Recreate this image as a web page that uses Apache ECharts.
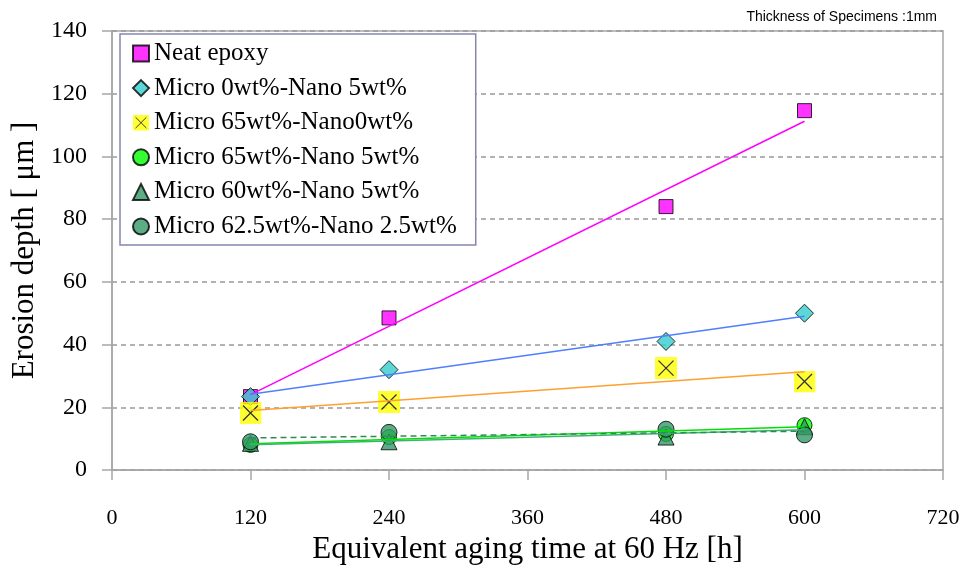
<!DOCTYPE html>
<html>
<head>
<meta charset="utf-8">
<script src="https://cdn.jsdelivr.net/npm/echarts@6/dist/echarts.min.js"></script>
<style>
html,body{margin:0;padding:0;background:#fff;}
#chart{width:965px;height:578px;}
</style>
</head>
<body>
<div id="chart"></div>
<script>
// ---- data ----
var hours = [120, 240, 480, 600];
var seriesNames = [
  'Neat epoxy',
  'Micro 0wt%-Nano 5wt%',
  'Micro 65wt%-Nano0wt%',
  'Micro 65wt%-Nano 5wt%',
  'Micro 60wt%-Nano 5wt%',
  'Micro 62.5wt%-Nano 2.5wt%'
];
var neatEpoxy   = [23.4, 48.5, 84, 114.6];
var m0n5        = [23.4, 32, 41, 50];
var m65n0       = [18.2, 21.7, 32.5, 28.2];
var m65n5       = [8, 10.5, 11.5, 14.3];
var m60n5       = [8.5, 9, 10.5, 13.8];
var m625n25     = [9, 12, 13, 11.2];
var xTicks = [0, 120, 240, 360, 480, 600, 720];
var yTicks = [0, 20, 40, 60, 80, 100, 120, 140];

var allValues = [neatEpoxy, m0n5, m65n0, m65n5, m60n5, m625n25];

var serif = '"Liberation Serif", "Times New Roman", serif';

var xSvg = "<svg xmlns='http://www.w3.org/2000/svg' width='22' height='22'><rect width='22' height='22' fill='#ffff00'/><path d='M3.5,3.5L18.5,18.5M18.5,3.5L3.5,18.5' stroke='#000' stroke-width='1.3' fill='none'/></svg>";
var xSymbol = 'image://data:image/svg+xml;charset=utf-8,' + encodeURIComponent(xSvg);

var markerStyles = [
  {symbol: 'rect', size: 14, color: '#ff00ff'},
  {symbol: 'diamond', size: 18, color: '#33cccc'},
  {symbol: xSymbol, size: 22, color: '#ffff00'},
  {symbol: 'circle', size: 15, color: '#00ff00'},
  {symbol: 'triangle', size: 16, color: '#339966'},
  {symbol: 'circle', size: 16, color: '#339966'}
];
var trendStyles = [
  {color: '#ff00ff', type: 'solid'},
  {color: '#4f7fff', type: 'solid'},
  {color: '#ffa030', type: 'solid'},
  {color: '#00e000', type: 'solid'},
  {color: '#3cb371', type: 'solid'},
  {color: '#2e8b57', type: [6, 4]}
];

function fit(xs, ys) {
  var n = xs.length, mx = 0, my = 0;
  for (var i = 0; i < n; i++) { mx += xs[i]; my += ys[i]; }
  mx /= n; my /= n;
  var sxy = 0, sxx = 0;
  for (var j = 0; j < n; j++) { sxy += (xs[j] - mx) * (ys[j] - my); sxx += (xs[j] - mx) * (xs[j] - mx); }
  var b = sxy / sxx, a = my - b * mx;
  return function (x) { return a + b * x; };
}

var series = [];
allValues.forEach(function (vals, k) {
  var f = fit(hours, vals);
  var x0 = hours[0], x1 = hours[hours.length - 1];
  series.push({
    name: 'trend' + k,
    type: 'line',
    data: [[x0, f(x0)], [x1, f(x1)]],
    symbol: 'none',
    silent: true,
    z: 5,
    lineStyle: {color: trendStyles[k].color, width: 1.5, type: trendStyles[k].type}
  });
});
allValues.forEach(function (vals, k) {
  var st = markerStyles[k];
  series.push({
    name: seriesNames[k],
    type: 'scatter',
    symbol: st.symbol,
    symbolSize: st.size,
    z: 3,
    itemStyle: {color: st.color, borderColor: '#000', borderWidth: 1},
    data: hours.map(function (h, i) { return [h, vals[i]]; })
  });
});

var chart = echarts.init(document.getElementById('chart'), null, {renderer: 'canvas'});
chart.setOption({
  animation: false,
  backgroundColor: '#fff',
  grid: {left: 112, right: 22, top: 31, bottom: 108, show: true, borderColor: '#a6a6a6', borderWidth: 1.5, backgroundColor: 'transparent'},
  graphic: [{
    type: 'text', right: 28, top: 10,
    style: {text: 'Thickness of Specimens :1mm', font: '14px "Liberation Sans", Arial, sans-serif', fill: '#000'}
  }],
  legend: {
    orient: 'vertical',
    left: 120, top: 34,
    data: seriesNames,
    backgroundColor: '#fff',
    borderColor: '#8585b0',
    borderWidth: 1.5,
    borderRadius: 0,
    padding: [7, 19, 6, 12],
    itemWidth: 16, itemHeight: 16,
    itemGap: 9.6,
    textStyle: {fontFamily: serif, fontSize: 25, color: '#000', lineHeight: 22}
  },
  xAxis: {
    type: 'value', min: xTicks[0], max: xTicks[xTicks.length - 1], interval: 120,
    name: 'Equivalent aging time at 60 Hz [h]', nameLocation: 'middle', nameGap: 63,
    nameTextStyle: {fontFamily: serif, fontSize: 31, color: '#000'},
    axisLine: {lineStyle: {color: '#a6a6a6', width: 1.5}},
    axisTick: {show: true, length: 10, lineStyle: {color: '#a6a6a6', width: 1.5}},
    axisLabel: {margin: 37, fontFamily: serif, fontSize: 22, color: '#000'},
    splitLine: {show: false}
  },
  yAxis: {
    type: 'value', min: yTicks[0], max: yTicks[yTicks.length - 1], interval: 20,
    name: 'Erosion depth [ μm ]', nameLocation: 'middle', nameGap: 68,
    nameTextStyle: {fontFamily: serif, fontSize: 31, color: '#000'},
    axisLine: {show: true, lineStyle: {color: '#a6a6a6', width: 1.5}},
    axisTick: {show: true, length: 10, lineStyle: {color: '#a6a6a6', width: 1.5}},
    axisLabel: {margin: 25, fontFamily: serif, fontSize: 24, color: '#000'},
    splitLine: {show: true, lineStyle: {color: '#999', width: 1.5, type: [5, 4]}}
  },
  series: series
});
</script>
</body>
</html>
